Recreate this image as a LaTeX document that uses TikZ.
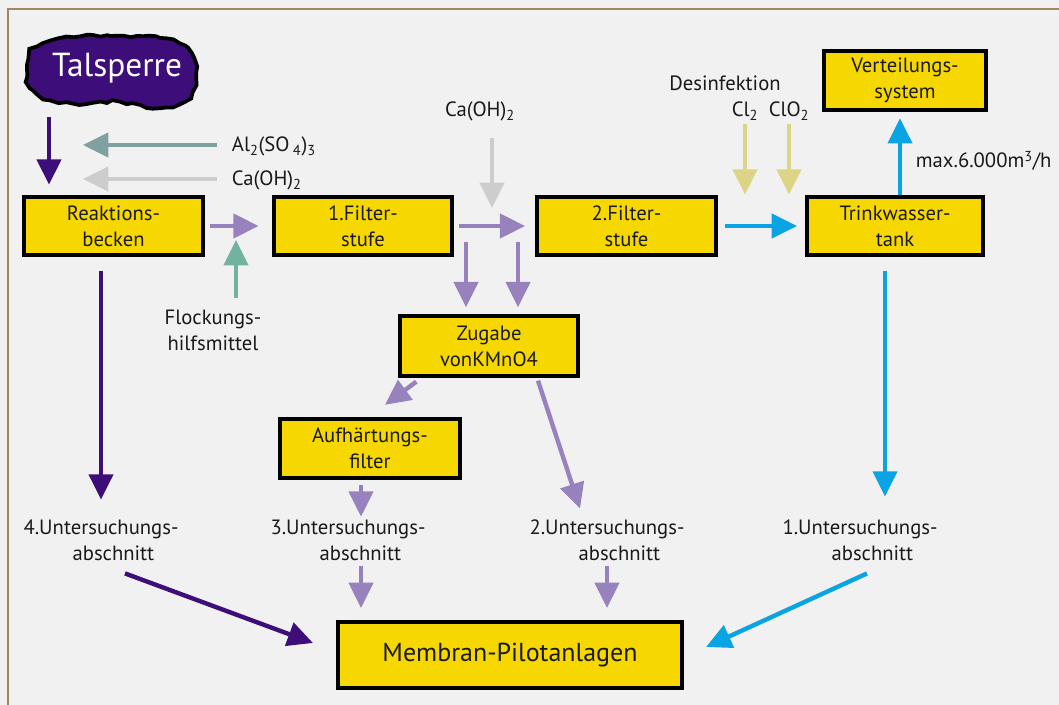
\documentclass[tikz,border=0pt]{standalone}
\usepackage{fontspec}
\setmainfont{PT Sans}
\usetikzlibrary{arrows.meta,calc,decorations.pathmorphing}
\definecolor{DeepViolet}{HTML}{3D0D7A}
\definecolor{Lavender}{HTML}{9882BE}
\definecolor{AlumTeal}{HTML}{7FA19F}
\definecolor{LimeGray}{HTML}{CDCDCD}
\definecolor{FlockTeal}{HTML}{72B2A0}
\definecolor{WaterCyan}{HTML}{0AA3E3}
\definecolor{ChlorKhaki}{HTML}{DCD585}
\definecolor{BoxYellow}{HTML}{F6D800}
\definecolor{FrameBrown}{HTML}{A08860}
\definecolor{PaperGray}{HTML}{F2F1F2}
\definecolor{InkBlack}{HTML}{1A1A1A}

\begin{document}
\begin{tikzpicture}[x=0.75pt, y=-0.75pt, every node/.style={font=\fontsize{15.5}{19.5}\selectfont, text=InkBlack, inner sep=2pt}]
  \tikzstyle{box}=[rectangle, draw=black, line width=3pt, fill=BoxYellow,
  minimum width=134pt, minimum height=44pt, align=center, inner sep=0pt]
  \tikzstyle{lbl}=[align=center]
  \tikzstyle{arr}=[line width=3.3pt, -{Triangle[length=19pt,width=18pt]}]

  \fill[PaperGray] (0,0) rectangle (1059,705);
  \useasboundingbox (0,0) rectangle (1059,705);
  \draw[FrameBrown, line width=1.5pt] (8,705) -- (8,9) -- (1059,9);

  \pgfmathsetseed{7}
  \filldraw[fill=DeepViolet, draw=black, line width=2.8pt, decorate,
    decoration={random steps, segment length=5pt, amplitude=1.1pt}]
    plot[smooth cycle] coordinates {(32,50) (60,38) (110,36) (160,38) (188,48) (196,72)
    (190,98) (160,108) (120,102) (85,104) (50,100) (30,88) (27,65)};
  \node[text=white, font=\fontsize{25}{29}\selectfont] (talsperre) at (117,68) {Talsperre};

  \node[box] (reaktion) at (113.5,226) {Reaktions-\\becken};
  \node[box] (filter1) at (363,226) {1.Filter-\\stufe};
  \node[box] (filter2) at (626.5,226) {2.Filter-\\stufe};
  \node[box, minimum width=132pt] (trink) at (895,226) {Trinkwasser-\\tank};
  \node[box, minimum width=121pt, minimum height=44.5pt] (vert) at (905,80.5) {Verteilungs-\\system};
  \node[box, minimum width=133pt, minimum height=44.5pt] (zugabe) at (489,346) {Zugabe\\vonKMnO4};
  \node[box, minimum width=135pt, minimum height=44.5pt] (aufh) at (370,448.5) {Aufhärtungs-\\filter};
  \node[box, minimum width=258pt, minimum height=49.5pt, font=\fontsize{19.5}{23}\selectfont] (membran) at (510,655) {Membran-Pilotanlagen};

  \node[anchor=base west] (alsulf) at (229,152) {Al\textsubscript{2}(SO\,\textsubscript{4})\textsubscript{3}};
  \node[anchor=base west] (caoh1) at (229,186) {Ca(OH)\textsubscript{2}};
  \node[anchor=base] (caoh2) at (480,117) {Ca(OH)\textsubscript{2}};
  \node[lbl] (flock) at (213,330) {Flockungs-\\hilfsmittel};
  \node (desinf) at (725,83) {Desinfektion};
  \node[anchor=base] (cl2) at (745,117) {Cl\textsubscript{2}};
  \node[anchor=base] (clo2) at (789,117) {ClO\textsubscript{2}};
  \node[anchor=base west] (maxflow) at (913,168) {max.6.000m\textsuperscript{3}/h};
  \node[lbl] (unt4) at (101,540) {4.Untersuchungs-\\\hspace*{1.2em}abschnitt};
  \node[lbl] (unt3) at (348,540) {3.Untersuchungs-\\\hspace*{1.2em}abschnitt};
  \node[lbl] (unt2) at (607,540) {2.Untersuchungs-\\\hspace*{1.2em}abschnitt};
  \node[lbl] (unt1) at (860,540) {1.Untersuchungs-\\\hspace*{1.2em}abschnitt};

  \coordinate (inTal) at (49,117);
  \coordinate (alEnd) at (83,145);
  \coordinate (caEnd) at (83,179);
  \coordinate (flockIn) at (236,240);
  \coordinate (caIn) at (492,208);
  \coordinate (a0) at ($(trink.north)+(5,0)$);
  \coordinate (a1) at ($(trink.south)+(-10,0)$);
  \coordinate (a3) at ($(aufh.south)+(-9,0)$);

  \draw[arr, DeepViolet, shorten >=7.5pt] (inTal) -- (inTal |- reaktion.north);
  \draw[arr, AlumTeal, shorten <=9pt] (alEnd -| alsulf.west) -- (alEnd);
  \draw[arr, LimeGray, shorten <=9pt] (caEnd -| caoh1.west) -- (caEnd);
  \draw[arr, Lavender, shorten <=3.75pt, shorten >=9.75pt] (reaktion.east) -- (filter1.west);
  \draw[arr, FlockTeal, shorten <=6.75pt] (flockIn |- flock.north) -- (flockIn);
  \draw[arr, Lavender, shorten <=3.75pt, shorten >=7.5pt] (filter1.east) -- (filter2.west);
  \draw[arr, LimeGray, shorten <=10pt] (caIn |- caoh2.south) -- (caIn);
  \foreach \dx in {-23,29}
    \draw[arr, Lavender] ($(zugabe.north)+(\dx,-72)$) -- ($(zugabe.north)+(\dx,-7)$);
  \draw[arr, WaterCyan, shorten <=5.25pt, shorten >=6pt] (filter2.east) -- (trink.west);
  \draw[arr, ChlorKhaki] (cl2.south) -- (cl2.south |- trink.north);
  \draw[arr, ChlorKhaki] (clo2.south) -- (clo2.south |- trink.north);
  \draw[arr, WaterCyan, shorten >=4.5pt] (a0) -- (a0 |- vert.south);
  \draw[arr, Lavender] ($(zugabe.south west)+(18,4)$) -- ($(aufh.north)+(15,-12)$);
  \draw[arr, Lavender] ($(zugabe.south)+(49,3)$) -- ($(unt2.north)+(-27,-8)$);
  \draw[arr, DeepViolet, shorten <=10pt, shorten >=12.75pt] (reaktion.south -| unt4.north) -- (unt4.north);
  \draw[arr, WaterCyan, shorten <=10pt, shorten >=15pt] (a1) -- (a1 |- unt1.north);
  \draw[arr, Lavender, shorten <=3.75pt] (a3) -- (a3 |- unt3.north);
  \draw[arr, Lavender, shorten <=2pt, shorten >=9pt] (unt3.south -| a3) -- (a3 |- membran.north);
  \draw[arr, Lavender, shorten <=2pt, shorten >=9pt] (unt2.south) -- (unt2.south |- membran.north);
  \draw[arr, DeepViolet] ($(unt4.south)+(24,10)$) -- ($(membran.west)+(-23,-12)$);
  \draw[arr, WaterCyan] ($(unt1.south)+(7,10)$) -- ($(membran.east)+(22,-8)$);
\end{tikzpicture}
\end{document}
